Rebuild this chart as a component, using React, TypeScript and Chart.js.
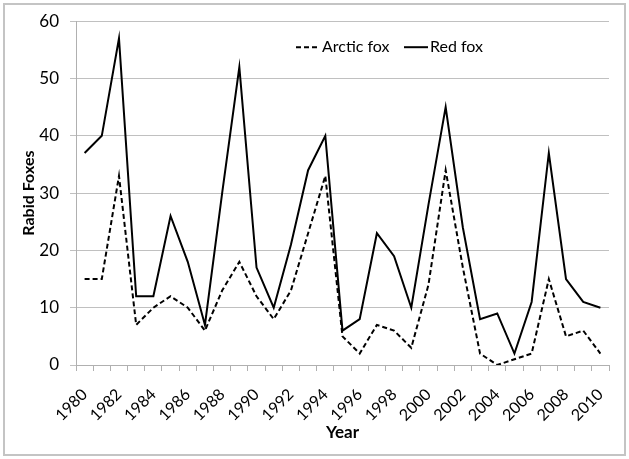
import React, { useEffect, useRef } from "react";
import { Chart, registerables } from "chart.js";

Chart.register(...registerables);

const years: string[] = [
  "1980", "1981", "1982", "1983", "1984", "1985", "1986", "1987", "1988", "1989",
  "1990", "1991", "1992", "1993", "1994", "1995", "1996", "1997", "1998", "1999",
  "2000", "2001", "2002", "2003", "2004", "2005", "2006", "2007", "2008", "2009", "2010",
];
const arcticFox: number[] = [
  15, 15, 33, 7, 10, 12, 10, 6, 13, 18,
  12, 8, 13, 23, 33, 5, 2, 7, 6, 3,
  14, 34, 17, 2, 0, 1, 2, 15, 5, 6, 2,
];
const redFox: number[] = [
  37, 40, 57, 12, 12, 26, 18, 7, 30, 52,
  17, 10, 21, 34, 40, 6, 8, 23, 19, 10,
  28, 45, 24, 8, 9, 2, 11, 37, 15, 11, 10,
];
const yTicks = { min: 0, max: 60, step: 10 };
const FONT = "Lato, 'Open Sans', sans-serif";

const framePlugin = {
  id: "frame",
  beforeDraw(chart: any) {
    const ctx = chart.ctx;
    ctx.save();
    ctx.fillStyle = "#ffffff";
    ctx.fillRect(0, 0, chart.width, chart.height);
    ctx.strokeStyle = "#c4c4c4";
    ctx.lineWidth = 2;
    ctx.strokeRect(4, 4, chart.width - 8, chart.height - 8);
    ctx.restore();
  },
};

const legendPlugin = {
  id: "insideLegend",
  afterDraw(chart: any) {
    const ctx = chart.ctx;
    const a = chart.chartArea;
    const y = a.top + 26;
    ctx.save();
    ctx.font = `16px ${FONT}`;
    ctx.fillStyle = "#000";
    ctx.textBaseline = "middle";
    ctx.strokeStyle = "#000";
    ctx.lineWidth = 2;
    chart.data.datasets.forEach((ds: any, i: number) => {
      const x0 = a.left + (i === 0 ? 220 : 328);
      ctx.setLineDash(ds.borderDash || []);
      ctx.beginPath();
      ctx.moveTo(x0, y);
      ctx.lineTo(x0 + 24, y);
      ctx.stroke();
      ctx.setLineDash([]);
      ctx.fillText(ds.label, x0 + 26, y);
    });
    ctx.restore();
  },
};

export default function App() {
  const ref = useRef<HTMLCanvasElement>(null);
  useEffect(() => {
    if (!ref.current) return;
    const chart = new Chart(ref.current, {
      type: "line",
      data: {
        labels: years,
        datasets: [
          {
            label: "Arctic fox",
            data: arcticFox,
            borderColor: "#000",
            borderWidth: 2,
            borderDash: [5, 3],
            pointRadius: 0,
            tension: 0,
            fill: false,
          },
          {
            label: "Red fox",
            data: redFox,
            borderColor: "#000",
            borderWidth: 2,
            pointRadius: 0,
            tension: 0,
            fill: false,
          },
        ],
      },
      options: {
        animation: false,
        responsive: false,
        events: [],
        layout: { padding: { top: 17, right: 20, left: 4, bottom: 4 } },
        plugins: {
          legend: { display: false },
          tooltip: { enabled: false },
        },
        scales: {
          x: {
            type: "category",
            offset: true,
            grid: {
              offset: true,
              drawOnChartArea: false,
              drawTicks: true,
              tickLength: 6,
              color: "#b0b0b0",
            },
            border: { display: true, color: "#b0b0b0", width: 1 },
            ticks: {
              autoSkip: false,
              maxRotation: 45,
              minRotation: 45,
              color: "#000",
              font: { family: FONT, size: 16 },
              padding: 14,
              callback: (_v: any, i: number) => (i % 2 === 0 ? years[i] : ""),
            },
            title: {
              display: true,
              text: "Year",
              color: "#000",
              font: { family: FONT, size: 17, weight: "bold" },
              padding: { top: 4, bottom: 12 },
            },
            afterFit: (s: any) => {
              s.height = 90;
            },
          },
          y: {
            min: yTicks.min,
            max: yTicks.max,
            ticks: {
              stepSize: yTicks.step,
              color: "#000",
              font: { family: FONT, size: 17 },
              padding: 11,
            },
            grid: {
              color: "#c0c0c0",
              lineWidth: 1,
              tickLength: 6,
            },
            border: { display: true, color: "#b0b0b0" },
            title: {
              display: true,
              text: "Rabid Foxes",
              color: "#000",
              font: { family: FONT, size: 16, weight: "bold" },
              padding: { top: 15, bottom: 4 },
            },
            afterFit: (s: any) => {
              s.width = 72;
            },
          },
        },
      },
      plugins: [framePlugin, legendPlugin],
    });
    return () => chart.destroy();
  }, []);
  return (
    <div style={{ position: "absolute", left: 0, top: 0, width: 629, height: 459 }}>
      <canvas ref={ref} width={629} height={459} style={{ display: "block" }} />
    </div>
  );
}
